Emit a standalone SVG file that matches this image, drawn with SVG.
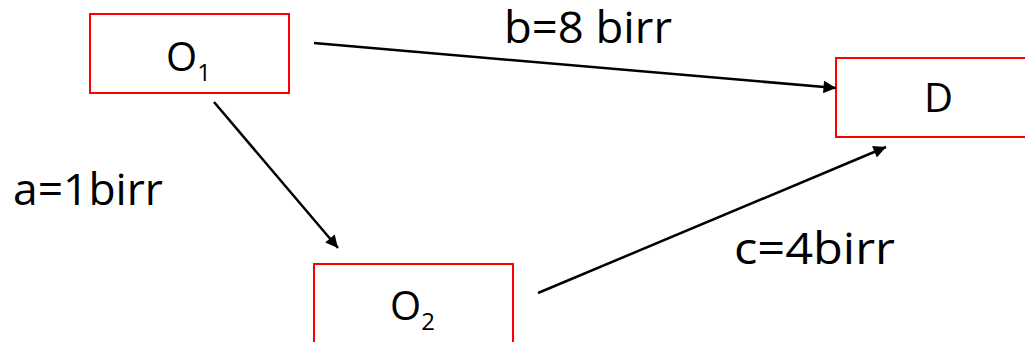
<svg xmlns="http://www.w3.org/2000/svg" width="1025" height="342" viewBox="0 0 1025 342">
  <style>
    .box { fill: #ffffff; stroke: #ff0000; stroke-width: 2; }
    .name { font-family: "Open Sans", "Noto Sans", sans-serif; font-size: 40px; fill: #000000; }
    .sub { font-size: 24px; }
    .cost { font-family: "Open Sans", "Noto Sans", sans-serif; font-size: 44px; fill: #000000; }
    .edge { stroke: #000000; stroke-width: 2.5; fill: none; marker-end: url(#arrow); }
  </style>
  <defs>
    <marker id="arrow" viewBox="0 0 10 10" refX="10" refY="5" markerWidth="6" markerHeight="5" markerUnits="strokeWidth" orient="auto">
      <path d="M0,0 L10,5 L0,10 z" fill="#000000"/>
    </marker>
  </defs>
  <rect width="1025" height="342" fill="#ffffff"/>

  <g id="node-O1">
    <rect class="box" x="90" y="14" width="199" height="79"/>
    <text class="name" x="166" y="71">O<tspan class="sub" dy="10">1</tspan></text>
  </g>

  <g id="node-O2">
    <rect class="box" x="314" y="264" width="199" height="80"/>
    <text class="name" x="390" y="320">O<tspan class="sub" dy="10">2</tspan></text>
  </g>

  <g id="node-D">
    <rect class="box" x="836" y="58" width="199" height="79"/>
    <text class="name" x="924" y="112">D</text>
  </g>

  <g id="connectors">
    <line class="edge" x1="314" y1="43" x2="836" y2="88"/>
    <line class="edge" x1="214" y1="102" x2="338" y2="248"/>
    <line class="edge" x1="538" y1="293" x2="886" y2="147"/>
  </g>

  <g id="labels">
    <text class="cost" x="504" y="43" textLength="168" lengthAdjust="spacingAndGlyphs">b=8 birr</text>
    <text class="cost" x="13" y="205" textLength="150" lengthAdjust="spacingAndGlyphs">a=1birr</text>
    <text class="cost" x="734" y="264" textLength="161" lengthAdjust="spacingAndGlyphs">c=4birr</text>
  </g>
</svg>
